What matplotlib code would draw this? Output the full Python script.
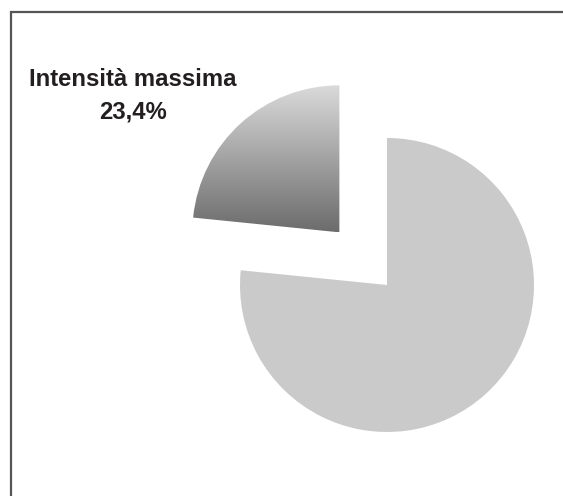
import numpy as np
import matplotlib
matplotlib.use('Agg')
import matplotlib.pyplot as plt

# quote dell'intensità
etichette = ['Altro', 'Intensità massima']
quote = [76.6, 23.4]
colore_fetta = '#cacaca'

fig = plt.figure(figsize=(5.63, 4.96), dpi=100)
ax = fig.add_axes([0, 0, 1, 1])

# torta con la fetta più piccola staccata (explode in unità dei dati)
spicchi, _ = ax.pie(quote, explode=(0, 71), startangle=90, counterclock=False,
                    colors=[colore_fetta, 'none'], center=(387, 211), radius=147,
                    frame=True)
ax.set_xlim(0, 563)
ax.set_ylim(0, 496)
ax.set_aspect('equal')
ax.axis('off')

# sfumatura verticale sulla fetta staccata
fetta = spicchi[1]
fetta.set_edgecolor('none')
bb = fetta.get_path().get_extents()
grad = np.linspace(0, 1, 256).reshape(-1, 1)
cmap = matplotlib.colors.LinearSegmentedColormap.from_list('g', ['#dadada', '#6c6c6c'])
img = ax.imshow(grad, cmap=cmap, aspect='auto', origin='upper',
                extent=[bb.x0, bb.x1, bb.y0, bb.y1], zorder=2)
img.set_clip_path(fetta)

testo = '%s\n%s%%' % (etichette[1], ('%.1f' % quote[1]).replace('.', ','))
ax.text(133, 400, testo, ha='center', va='center', fontsize=17.2,
        fontweight='bold', family='Liberation Sans', color='#231f20',
        linespacing=1.5)

# bordo in alto e a sinistra
ax.plot([11, 11, 563], [0, 484, 484], color='#555555', lw=1.6,
        solid_joinstyle='miter')

fig.savefig('out.png', dpi=100)
